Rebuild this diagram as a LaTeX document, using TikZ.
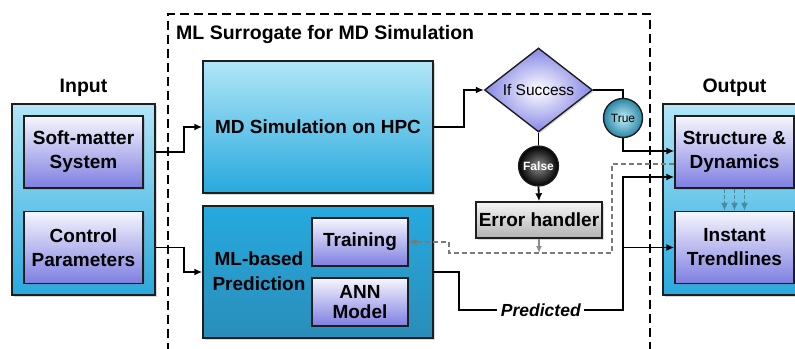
\documentclass[tikz,border=0pt]{standalone}
\usepackage{fontspec}
\setmainfont{Liberation Sans}
\usetikzlibrary{arrows.meta,shapes.geometric,shadows}
\definecolor{cyTop}{HTML}{B2E6F7}
\definecolor{cyBot}{HTML}{27A9DE}
\definecolor{mlTop}{HTML}{26AADF}
\definecolor{mlBot}{HTML}{2A8DB9}
\definecolor{lavTop}{HTML}{F6F6FD}
\definecolor{lavBot}{HTML}{7E7EE2}
\definecolor{grTop}{HTML}{F4F4F4}
\definecolor{grBot}{HTML}{B3B3B3}
\definecolor{bord}{HTML}{1E1E1E}
\definecolor{diaOut}{HTML}{8686E6}
\definecolor{trIn}{HTML}{C4EEF9}
\definecolor{trOut}{HTML}{2A86A6}
\definecolor{tealArr}{HTML}{4A8A9C}
\definecolor{dashGr}{HTML}{7A7A7A}
\begin{document}
\begin{tikzpicture}[x=1pt,y=-1pt,
  shad/.style={drop shadow={shadow xshift=1.5pt,shadow yshift=-1.5pt,opacity=0.3}},
  base/.style={draw=bord,line width=1.4pt,inner sep=0pt,align=center,
    font=\bfseries\fontsize{19}{24}\selectfont,shad},
  outerbox/.style={base,top color=cyTop,bottom color=cyBot,minimum width=143pt,minimum height=191pt},
  bigbox/.style={base,top color=cyTop,bottom color=cyBot,minimum width=230pt,minimum height=132pt},
  mlbox/.style={base,top color=mlTop,bottom color=mlBot,minimum width=230pt,minimum height=132pt},
  lavbox/.style={base,top color=lavTop,bottom color=lavBot,minimum width=119pt,minimum height=72pt},
  smallbox/.style={base,top color=lavTop,bottom color=lavBot,minimum width=96pt,minimum height=48pt},
  lbl/.style={font=\bfseries\fontsize{19.5}{24}\selectfont,inner sep=0pt},
  conn/.style={line width=1.8pt,black},
  arr/.style={conn,-{Latex[length=8pt,width=7pt]}},
]
\useasboundingbox (0,0) rectangle (795,348);
\begin{scope}
\clip (0,0) rectangle (795,348);
% dashed frame
\draw[line width=2.3pt,dash pattern=on 9pt off 5pt] (168,352) -- (168,14) -- (650,14) -- (650,352);
\node[lbl,anchor=west] (title) at (176,35) {ML Surrogate for MD Simulation};

% input
\node[outerbox] (input) at (83.5,199.5) {};
\node[lbl] (inlbl) at (83.5,88) {Input};
\node[lavbox] (soft) at (83.5,152) {Soft-matter\\System};
\node[lavbox] (ctrl) at (83.5,247.5) {Control\\Parameters};

% middle
\node[bigbox] (md) at (318,127) {MD Simulation on HPC};
\node[mlbox] (ml) at (318,272) {};
\node[lbl,font=\bfseries\fontsize{19}{25}\selectfont,align=center] (mltxt) at (259,271) {ML-based\\Prediction};
\node[smallbox] (train) at (360,242) {Training};
\node[smallbox,font=\bfseries\fontsize{19}{20}\selectfont] (ann) at (360,302) {ANN\\Model};

% decision
\node[diamond,draw=bord,line width=1.4pt,inner sep=0pt,minimum width=108pt,minimum height=84pt,
  inner color=white,outer color=diaOut,shad] (dia) at (538.5,90) {};
\node[font=\fontsize{15.5}{18}\selectfont,inner sep=0pt] (diatxt) at (538.5,90) {If Success};
\node[circle,draw=bord,line width=1.4pt,minimum size=39pt,inner sep=0pt,
  inner color=trIn,outer color=trOut,font=\fontsize{12}{13}\selectfont] (true) at (623,118) {True};
\node[circle,draw=bord,line width=1.2pt,minimum size=40pt,inner sep=0pt,
  inner color=black!45,outer color=black,text=white,font=\bfseries\fontsize{12}{13}\selectfont] (false) at (538.5,166) {False};
\node[base,top color=grTop,bottom color=grBot,minimum width=126pt,minimum height=36pt] (err) at (539,220) {Error handler};

% output
\node[outerbox] (output) at (734.5,199.5) {};
\node[lbl] (outlbl) at (734.5,88) {Output};
\node[lavbox] (struct) at (734.5,152) {Structure \&\\Dynamics};
\node[lavbox] (inst) at (734.5,247.5) {Instant\\Trendlines};

% connectors
\draw[arr] (soft.east -| input.east) -- ++(28,0) |- (md.west);
\draw[arr] (ctrl.east -| input.east) -- ++(28,0) |- (ml.west);
\draw[arr] (md.east) -- ++(30,0) |- (dia.west);
\draw[conn] (dia.east) -| (true.north);
\draw[arr] (true.south) |- ([yshift=1pt]struct.west);
\draw[conn] (dia.south) -- (false.north);
\draw[arr] (false.south) -- (err.north);

\coordinate (bus) at (623,310);
\draw[arr] (ml.east) -- ++(25,0) |- node[pos=0.75,fill=white,inner sep=3.5pt,
  font=\bfseries\itshape\fontsize{17.5}{20}\selectfont] (pred) {Predicted} (bus) |- ([yshift=-25pt]struct.west);
\draw[arr] (bus |- inst.west) -- (inst.west);

% dashed feedback
\coordinate (dA) at (612,253);
\coordinate (dB) at (449,253);
\draw[dashGr,line width=1.2pt,dash pattern=on 5pt off 3pt,-{Latex[length=8pt,width=7pt]}]
  ([yshift=-12pt]struct.west) -| (dA) -- (dB) |- (train.east);
\draw[black!45,line width=1.4pt,-{Latex[length=7pt,width=6pt]}] (err.south) -- (err.south |- dB);

\foreach \dx in {-10,0,10}{
  \draw[tealArr,line width=1.8pt,dash pattern=on 4pt off 2pt,-{Latex[length=8pt,width=7pt]}]
    ([xshift=\dx pt]struct.south) -- ([xshift=\dx pt]inst.north);
}
\end{scope}
\end{tikzpicture}
\end{document}
